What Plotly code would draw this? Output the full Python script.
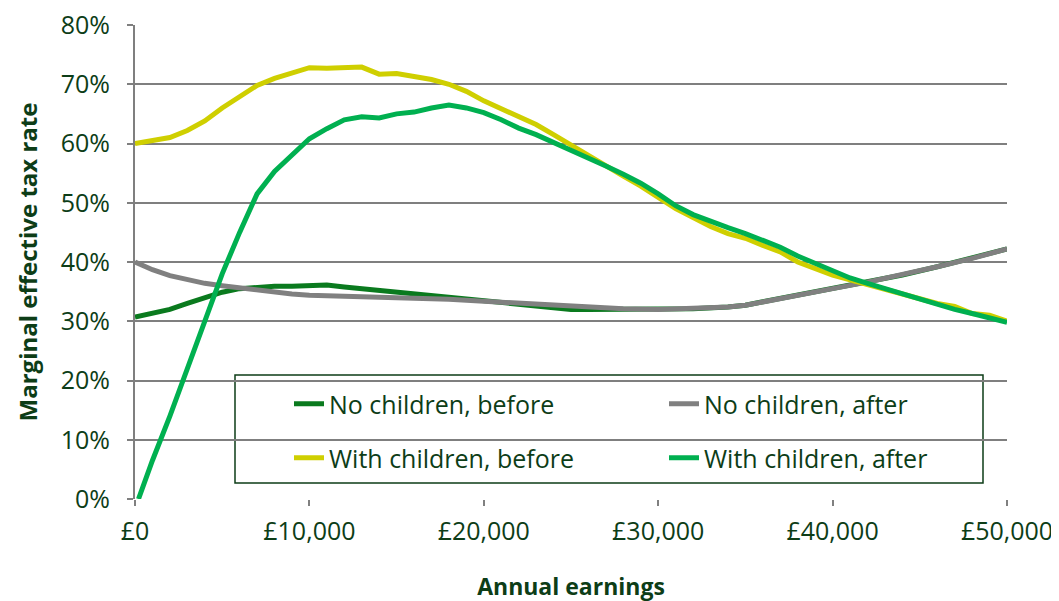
import plotly.graph_objects as go

# Earnings in £1000s and marginal effective tax rates (%)
x_nc_before = [0, 1, 2, 3, 4, 5, 6, 7, 8, 9, 10, 11, 12, 13, 14, 15, 16, 17, 18, 19, 20,
               21, 22, 23, 24, 25, 26, 28, 30, 32, 34, 35, 36, 38, 40, 42, 44, 46, 48, 50]
y_nc_before = [30.7, 31.3, 32.0, 33.0, 34.0, 34.9, 35.5, 35.8, 35.9, 35.9, 36.0, 36.1, 35.8, 35.5,
               35.1, 34.8, 34.5, 34.2, 33.9, 33.6, 33.4, 33.1, 32.8, 32.4, 32.1, 32.0, 32.0, 32.0,
               32.0, 32.1, 32.4, 32.7, 33.3, 34.4, 35.5, 36.6, 37.8, 39.2, 40.6, 42.2]

x_nc_after = [0, 1, 2, 3, 4, 5, 6, 7, 8, 9, 10, 12, 14, 16, 18, 20, 22, 24, 26, 28, 30, 32,
              34, 35, 36, 38, 40, 42, 44, 46, 48, 50]
y_nc_after = [40.0, 38.7, 37.7, 37.0, 36.4, 36.0, 35.6, 35.2, 34.9, 34.6, 34.4, 34.3, 34.1, 33.9,
              33.7, 33.4, 33.0, 32.6, 32.3, 32.1, 32.0, 32.1, 32.4, 32.7, 33.3, 34.4, 35.5, 36.6,
              37.8, 39.2, 40.6, 42.2]

x_wc_before = list(range(0, 51))
y_wc_before = [60.0, 60.5, 61.0, 62.2, 63.8, 66.0, 68.0, 69.8, 71.0, 72.0, 72.8, 72.7, 72.8, 72.9,
               71.7, 71.8, 71.3, 70.8, 70.0, 68.8, 67.2, 65.9, 64.5, 63.2, 61.5, 59.7, 58.0, 56.3,
               54.5, 52.8, 51.0, 49.0, 47.5, 46.0, 44.8, 44.0, 42.8, 41.7, 40.0, 38.8, 37.8, 37.0,
               36.2, 35.6, 34.8, 33.8, 33.0, 32.5, 31.3, 31.0, 30.0]

x_wc_after = [0.2, 1, 2, 3, 4, 5, 6, 7, 8, 9, 10, 11, 12, 13, 14, 15, 16, 17, 18, 19, 20, 21, 22,
              23, 24, 25, 26, 27, 28, 29, 30, 31, 32, 33, 34, 35, 36, 37, 38, 39, 40, 41, 42, 43,
              44, 45, 46, 47, 48, 49, 50]
y_wc_after = [0.0, 6.5, 14.0, 22.0, 30.0, 38.0, 45.0, 51.5, 55.3, 58.0, 60.8, 62.5, 64.0, 64.5,
              64.3, 65.0, 65.3, 66.0, 66.5, 66.0, 65.2, 64.0, 62.6, 61.5, 60.2, 59.0, 57.5, 56.2,
              54.8, 53.3, 51.5, 49.5, 48.0, 46.8, 45.8, 44.8, 43.6, 42.5, 41.0, 39.7, 38.4, 37.3,
              36.4, 35.5, 34.6, 33.8, 32.9, 32.0, 31.3, 30.6, 29.8]

x_ticks = [0, 10000, 20000, 30000, 40000, 50000]
x_tick_labels = ["£0", "£10,000", "£20,000", "£30,000", "£40,000", "£50,000"]
y_ticks = [0, 10, 20, 30, 40, 50, 60, 70, 80]
y_tick_labels = ["0%", "10%", "20%", "30%", "40%", "50%", "60%", "70%", "80%"]

TXT = "#0d3d17"
FONT = "Open Sans"

# plot area in page pixels (reference): left 135, right 1007, top 25, bottom 499
L, R, T, B = 135, 1007, 25, 499
PW, PH = R - L, B - T
OFF = 8  # page body offset

def k(xs):
    return [v * 1000 for v in xs]

def px(xp):
    return (xp - L) / PW

def py(yp):
    return (B - yp) / PH

fig = go.Figure()
fig.add_trace(go.Scatter(x=k(x_nc_before), y=y_nc_before, mode="lines", name="No children, before",
                         line=dict(color="#0a7a1e", width=5), legend="legend"))
fig.add_trace(go.Scatter(x=k(x_nc_after), y=y_nc_after, mode="lines", name="No children, after",
                         line=dict(color="#808080", width=5), legend="legend"))
fig.add_trace(go.Scatter(x=k(x_wc_before), y=y_wc_before, mode="lines", name="With children, before",
                         line=dict(color="#cfcf00", width=5), legend="legend2"))
fig.add_trace(go.Scatter(x=k(x_wc_after), y=y_wc_after, mode="lines", name="With children, after",
                         line=dict(color="#00b050", width=5), legend="legend2"))

leg_common = dict(orientation="h", xanchor="left", yanchor="middle", bgcolor="rgba(0,0,0,0)",
                  borderwidth=0, entrywidth=330, entrywidthmode="pixels",
                  font=dict(family=FONT, size=25, color=TXT))
fig.update_layout(
    width=1059, height=601,
    margin=dict(l=L - OFF, r=1059 - R + OFF, t=T - OFF, b=601 - B + OFF, autoexpand=False),
    paper_bgcolor="white", plot_bgcolor="white",
    font=dict(family=FONT, color=TXT),
    legend=dict(x=px(289), y=py(404), **leg_common),
    legend2=dict(x=px(289), y=py(458), **leg_common),
    xaxis=dict(range=[0, 50000], tickmode="array", tickvals=x_ticks, ticktext=x_tick_labels,
               showgrid=False, zeroline=False, showline=False, ticks="outside", ticklen=6,
               tickcolor="#808080", tickwidth=2, tickfont=dict(family=FONT, size=25, color=TXT),
               ticklabelstandoff=4, automargin=False, ticklabeloverflow="allow",
               title=dict(text="<b>Annual earnings</b>", font=dict(family=FONT, size=23, color=TXT),
                          standoff=32)),
    yaxis=dict(range=[0, 80], tickmode="array", tickvals=y_ticks, ticktext=y_tick_labels,
               showgrid=True, gridcolor="#7f7f7f", gridwidth=2, zeroline=False,
               showline=True, linecolor="#7f7f7f", linewidth=2,
               ticks="outside", ticklen=6, tickcolor="#7f7f7f", tickwidth=2,
               tickfont=dict(family=FONT, size=25, color=TXT), ticklabelstandoff=12,
               ticklabeloverflow="allow", automargin=False,
               title=dict(text="<b>Marginal effective tax rate</b>",
                          font=dict(family=FONT, size=24, color=TXT), standoff=16)),
    shapes=[dict(type="rect", xref="paper", yref="paper",
                 x0=px(235), x1=px(983), y0=py(483), y1=py(375),
                 line=dict(color="#0d3d17", width=1.5), fillcolor="white", layer="below")],
)

fig.write_html("out.html")
